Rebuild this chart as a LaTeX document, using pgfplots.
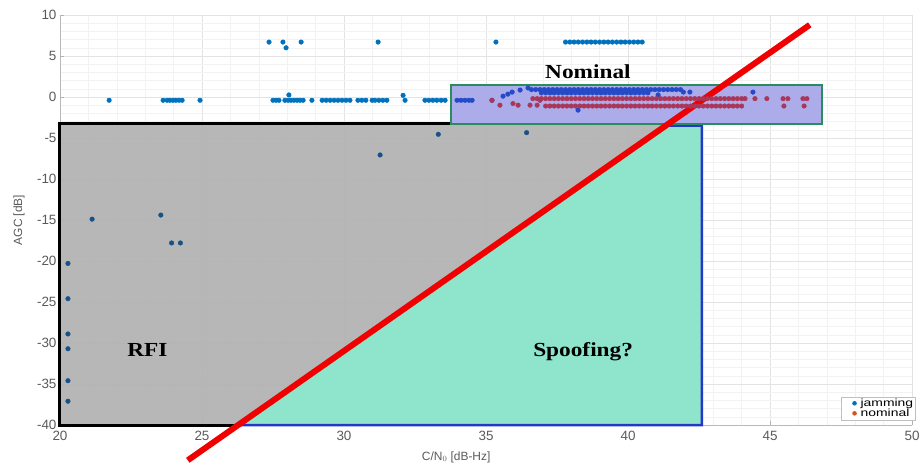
\documentclass[border=0pt]{standalone}
\usepackage{pgfplots}
\pgfplotsset{compat=1.18}
\usepackage{fontspec}
\setmainfont{Liberation Sans}
\newfontfamily\tnr{Liberation Serif}
\definecolor{jam}{RGB}{0,114,189}
\definecolor{jamdark}{RGB}{25,80,135}
\definecolor{jambox}{RGB}{35,75,200}
\definecolor{nom}{RGB}{217,83,25}
\definecolor{nombox}{RGB}{170,55,90}
\definecolor{graybg}{RGB}{178,178,178}
\definecolor{aqua}{RGB}{143,229,204}
\definecolor{lav}{RGB}{172,172,234}
\definecolor{boxgreen}{RGB}{40,140,95}
\definecolor{boxblue}{RGB}{35,55,200}
\definecolor{ticktext}{RGB}{90,90,90}
\begin{document}
\begin{tikzpicture}
\path[use as bounding box] (-60bp,-41bp) rectangle (864bp,425bp);
\begin{axis}[
  at={(0,0)}, anchor=south west,
  scale only axis, width=852bp, height=410bp,
  xmin=20, xmax=50, ymin=-40, ymax=10,
  axis x line*=bottom, axis y line*=left,
  axis line style={draw=gray!55, line width=0.6bp},
  xtick={20,25,...,50}, ytick={-40,-35,...,10},
  minor tick num=4,
  tick align=inside,
  major tick length=4bp, minor tick length=0bp,
  tick style={draw=gray!60, line width=0.5bp},
  grid=both,
  major grid style={draw=gray!22, line width=0.5bp},
  minor grid style={draw=gray!10, line width=0.4bp},
  ticklabel style={font=\fontsize{13.5}{15}\selectfont, text=ticktext},
  xticklabel style={yshift=-3bp},
  /pgf/number format/assume math mode=true,
  xlabel={C/N$_0$ [dB-Hz]},
  ylabel={AGC [dB]},
  label style={font=\fontsize{12}{14}\selectfont, text=ticktext},
  xlabel style={at={(axis description cs:0.465,0)}, anchor=center, yshift=-32bp},
  ylabel style={at={(axis description cs:-0.048,0.5)}, anchor=center},
  clip=false,
  legend style={at={(1.004,0.012)}, anchor=south east, draw=gray!50, fill=white,
    font=\fontsize{10.5}{11}\selectfont, inner sep=1bp, row sep=-1bp,
    nodes={inner sep=1bp}},
  legend image code/.code={\path[draw=none, fill=none] (0cm,0cm) -- (0.6cm,0cm);
    \fill[#1, draw=none] (0.42cm,0cm) circle[radius=2.3bp];},
  legend cell align=left,
]
\addlegendimage{color=jam}
\addlegendentry{\scalebox{1.33}[1]{jamming}}
\addlegendimage{color=nom}
\addlegendentry{\scalebox{1.33}[1]{nominal}}

% gray RFI region
\addplot[forget plot, fill=graybg, fill opacity=0.93, draw=none]
  coordinates {(20,-40) (42.6,-40) (42.6,-3.2) (20,-3.2)} -- cycle;
% spoofing region
\addplot[forget plot, fill=aqua, draw=boxblue, line width=2.5bp]
  coordinates {(26.27,-40) (42.6,-40) (42.6,-3.5) (41.33,-3.5)} -- cycle;
% black border of RFI region
\addplot[forget plot, draw=black, line width=3bp, line join=miter]
  coordinates {(41.4,-3.2) (20,-3.2) (20,-40) (26.3,-40)};
% nominal box
\addplot[forget plot, fill=lav, draw=boxgreen, line width=2.5bp]
  coordinates {(33.77,-3.3) (46.83,-3.3) (46.83,1.46) (33.77,1.46)} -- cycle;

% jamming points outside regions
\addplot[forget plot, only marks, mark=*, mark size=2.3bp, color=jam] coordinates {
(27.36,6.7) (27.85,6.7) (27.96,6.0) (28.49,6.7) (31.20,6.7) (35.35,6.7)
(37.80,6.7) (37.95,6.7) (38.10,6.7) (38.25,6.7) (38.40,6.7) (38.55,6.7) (38.70,6.7)
(38.85,6.7) (39.00,6.7) (39.15,6.7) (39.30,6.7) (39.45,6.7) (39.60,6.7) (39.75,6.7)
(39.90,6.7) (40.05,6.7) (40.20,6.7) (40.35,6.7) (40.50,6.7)
(21.73,-0.4) (23.63,-0.4) (23.77,-0.4) (23.87,-0.4) (23.98,-0.4) (24.08,-0.4) (24.19,-0.4) (24.30,-0.4)
(24.93,-0.4) (27.50,-0.4) (27.61,-0.4) (27.71,-0.4) (27.92,-0.4) (28.03,-0.4) (28.06,0.25)
(28.13,-0.4) (28.24,-0.4) (28.35,-0.4) (28.45,-0.4) (28.56,-0.4) (28.87,-0.4)
(29.23,-0.4) (29.37,-0.4) (29.51,-0.4) (29.65,-0.4) (29.79,-0.4) (29.93,-0.4) (30.07,-0.4) (30.21,-0.4)
(30.49,-0.4) (30.63,-0.4) (30.77,-0.4) (30.99,-0.4) (31.09,-0.4) (31.23,-0.4) (31.37,-0.4) (31.51,-0.4)
(32.08,0.2) (32.15,-0.4)
(32.85,-0.4) (32.99,-0.4) (33.13,-0.4) (33.27,-0.4) (33.42,-0.4) (33.56,-0.4)
};
% jamming points inside nominal box
\addplot[forget plot, only marks, mark=*, mark size=2.3bp, color=jambox] coordinates {
(33.98,-0.4) (34.12,-0.4) (34.26,-0.4) (34.40,-0.4) (34.51,-0.4)
(35.21,-0.4) (35.60,0.1) (35.77,0.35) (35.92,0.6) (36.20,0.85) (36.48,1.1)
(36.60,0.9) (36.75,0.9) (36.90,0.9) (37.05,0.9) (37.20,0.9) (37.35,0.9) (37.50,0.9) (37.65,0.9)
(37.80,0.9) (37.95,0.9) (38.10,0.9) (38.25,0.9) (38.40,0.9) (38.55,0.9) (38.70,0.9) (38.85,0.9)
(39.00,0.9) (39.15,0.9) (39.30,0.9) (39.45,0.9) (39.60,0.9) (39.75,0.9) (39.90,0.9) (40.05,0.9)
(40.20,0.9) (40.35,0.9) (40.50,0.9) (40.65,0.9) (40.80,0.9) (40.95,0.9) (41.10,0.9) (41.25,0.9)
(41.40,0.9) (41.55,0.9) (41.70,0.9) (41.85,0.9) (41.95,0.6) (42.18,0.6) (44.40,0.6)
(36.95,0.5) (37.10,0.5) (37.25,0.5) (37.40,0.5) (37.55,0.5) (37.70,0.5) (37.85,0.5) (38.00,0.5)
(38.15,0.5) (38.30,0.5) (38.45,0.5) (38.60,0.5) (38.75,0.5) (38.90,0.5) (39.05,0.5) (39.20,0.5)
(39.35,0.5) (39.50,0.5) (39.65,0.5) (39.80,0.5) (39.95,0.5) (40.10,0.5) (40.25,0.5) (40.40,0.5)
(40.55,0.5) (40.70,0.5) (41.06,0.25) (38.24,-1.6)
};
% jamming points in RFI region
\addplot[forget plot, only marks, mark=*, mark size=2.3bp, color=jamdark] coordinates {
(33.32,-4.55) (36.43,-4.35) (31.27,-7.07) (21.13,-14.9) (23.55,-14.4) (23.93,-17.8) (24.24,-17.8)
(20.28,-20.3) (20.28,-24.6) (20.28,-28.9) (20.28,-30.7) (20.28,-34.6) (20.28,-37.1)
};
% nominal points
\addplot[forget plot, only marks, mark=*, mark size=2.3bp, color=nombox] coordinates {
(35.21,-0.4) (35.49,-1.0) (35.95,-0.8) (36.13,-1.0) (36.55,-1.0) (36.80,-1.0) (36.90,-0.4)
(36.65,-0.2) (36.80,-0.2) (36.95,-0.2) (37.10,-0.2) (37.25,-0.2) (37.40,-0.2) (37.55,-0.2) (37.70,-0.2)
(37.85,-0.2) (38.00,-0.2) (38.15,-0.2) (38.30,-0.2) (38.45,-0.2) (38.60,-0.2) (38.75,-0.2) (38.90,-0.2)
(39.05,-0.2) (39.20,-0.2) (39.35,-0.2) (39.50,-0.2) (39.65,-0.2) (39.80,-0.2) (39.95,-0.2) (40.10,-0.2)
(40.25,-0.2) (40.40,-0.2) (40.55,-0.2) (40.70,-0.2) (40.85,-0.2) (41.00,-0.2) (41.15,-0.2) (41.30,-0.2)
(41.45,-0.2) (41.60,-0.2) (41.75,-0.2) (41.90,-0.2) (42.05,-0.2) (42.20,-0.2) (42.35,-0.2) (42.50,-0.2)
(42.65,-0.2) (42.80,-0.2) (42.95,-0.2) (43.10,-0.2) (43.25,-0.2) (43.40,-0.2) (43.55,-0.2) (43.70,-0.2)
(43.85,-0.2) (44.00,-0.2) (44.12,-0.2)
(44.47,-0.2) (44.89,-0.2) (45.46,-0.2) (45.63,-0.2) (46.16,-0.2) (46.30,-0.2)
(37.10,-1.1) (37.25,-1.1) (37.40,-1.1) (37.55,-1.1) (37.70,-1.1) (37.85,-1.1) (38.00,-1.1) (38.15,-1.1)
(38.30,-1.1) (38.45,-1.1) (38.60,-1.1) (38.75,-1.1) (38.90,-1.1) (39.05,-1.1) (39.20,-1.1) (39.35,-1.1)
(39.50,-1.1) (39.65,-1.1) (39.80,-1.1) (39.95,-1.1) (40.10,-1.1) (40.25,-1.1) (40.40,-1.1) (40.55,-1.1)
(40.70,-1.1) (40.85,-1.1) (41.00,-1.1) (41.15,-1.1) (41.30,-1.1) (41.45,-1.1) (41.60,-1.1) (41.75,-1.1)
(41.90,-1.1) (42.05,-1.1) (42.20,-1.1) (42.35,-1.1) (42.50,-1.1) (42.65,-1.1) (42.80,-1.1) (42.95,-1.1)
(43.10,-1.1) (43.25,-1.1) (43.40,-1.1) (43.55,-1.1) (43.70,-1.1) (43.85,-1.1) (44.00,-1.1)
(45.49,-1.1) (46.20,-1.1)
};
% red separation line
\addplot[forget plot, draw={rgb,255:red,240;green,0;blue,0}, line width=6bp, line cap=butt]
  coordinates {(24.5,-44.3) (46.4,8.8)};

\node[font=\tnr\bfseries\fontsize{20}{24}\selectfont] at (axis cs:38.59,3.05) {\scalebox{1.17}[1]{Nominal}};
\node[font=\tnr\bfseries\fontsize{20}{24}\selectfont] at (axis cs:23.08,-30.85) {\scalebox{1.17}[1]{RFI}};
\node[font=\tnr\bfseries\fontsize{20}{24}\selectfont] at (axis cs:38.42,-31.1) {\scalebox{1.17}[1]{Spoofing?}};
\end{axis}
\end{tikzpicture}
\end{document}
